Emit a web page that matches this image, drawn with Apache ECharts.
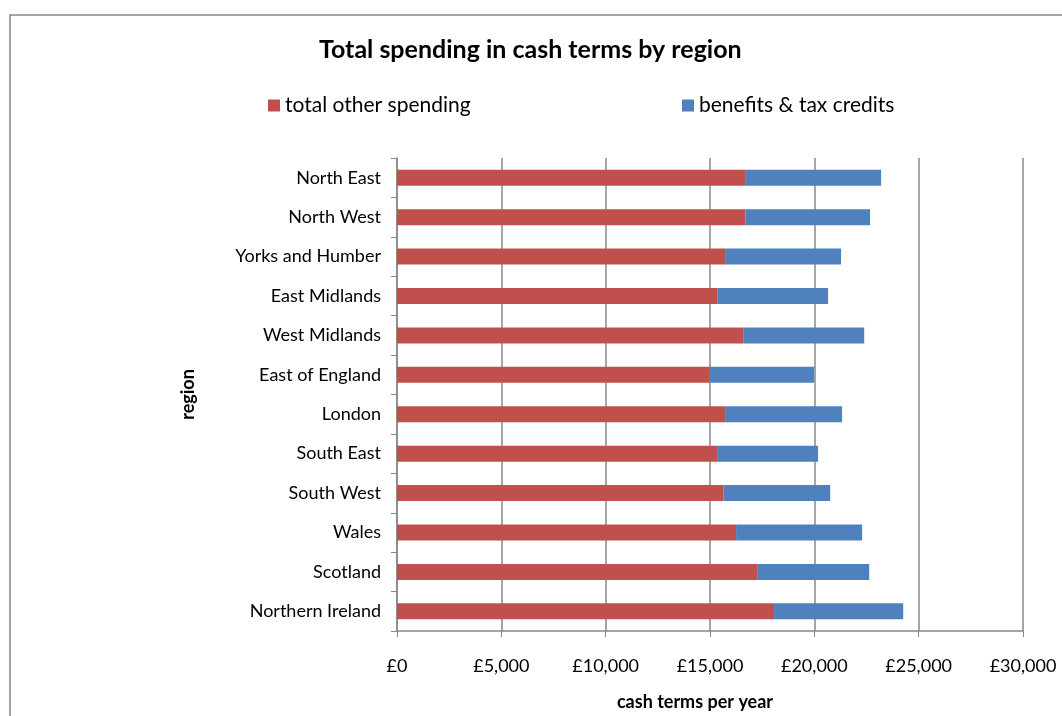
<!DOCTYPE html>
<html>
<head>
<meta charset="UTF-8">
<title>Total spending in cash terms by region</title>
<script src="https://cdn.jsdelivr.net/npm/echarts@6/dist/echarts.min.js"></script>
</head>
<body style="margin:0; background:#fff">
<div id="container" style="width:1062px; height:716px"></div>
<script type="text/javascript">
    var regions = ['North East', 'North West', 'Yorks and Humber', 'East Midlands', 'West Midlands',
        'East of England', 'London', 'South East', 'South West', 'Wales', 'Scotland', 'Northern Ireland'];
    var otherSpending = [16680, 16700, 15760, 15370, 16590, 14990, 15760, 15340, 15640, 16250, 17260, 18070];
    var benefits = [6520, 5970, 5520, 5290, 5800, 5000, 5570, 4840, 5120, 6040, 5370, 6190];
    var xTicks = [0, 5000, 10000, 15000, 20000, 25000, 30000];

    var font = 'Lato, "Open Sans", sans-serif';
    var myChart = echarts.init(document.getElementById('container'));

    var legendText = {fontSize: 21, color: '#000', fontFamily: font};

    var option = {
        animation: false,
        textStyle: {fontFamily: font},
        graphic: [{
            type: 'rect',
            shape: {x: 10, y: 15, width: 1100, height: 750},
            style: {fill: 'none', stroke: '#888', lineWidth: 1.5}
        }],
        title: {
            text: 'Total spending in cash terms by region',
            left: 314,
            top: 32,
            textStyle: {fontSize: 25, fontWeight: 'bold', color: '#000', fontFamily: font}
        },
        legend: [{
            top: 90,
            left: 263,
            itemWidth: 12,
            itemHeight: 12,
            itemGap: 10,
            icon: 'rect',
            textStyle: legendText,
            data: ['total other spending']
        }, {
            top: 90,
            left: 677,
            itemWidth: 12,
            itemHeight: 12,
            icon: 'rect',
            textStyle: legendText,
            data: ['benefits & tax credits']
        }],
        grid: {left: 397, right: 39, top: 158, bottom: 84, containLabel: false},
        xAxis: {
            type: 'value',
            min: 0,
            max: 30000,
            interval: 5000,
            name: 'cash terms per year',
            nameLocation: 'middle',
            nameGap: 62,
            nameTextStyle: {fontSize: 18, fontWeight: 'bold', color: '#000', fontFamily: font, padding: [0, 30, 0, 0]},
            axisLine: {show: true, lineStyle: {color: '#888', width: 1.5}},
            axisTick: {show: true, length: 6, lineStyle: {color: '#888'}},
            axisLabel: {
                fontSize: 18, color: '#000', margin: 26,
                formatter: function (v) {
                    return xTicks.indexOf(v) >= 0 ? '£' + v.toLocaleString('en-GB') : '';
                }
            },
            splitLine: {show: true, lineStyle: {color: '#888', width: 1.5}}
        },
        yAxis: {
            type: 'category',
            inverse: true,
            data: regions,
            name: 'region',
            nameLocation: 'middle',
            nameGap: 200,
            nameRotate: 90,
            nameTextStyle: {fontSize: 18, fontWeight: 'bold', color: '#000', fontFamily: font},
            axisLine: {show: true, lineStyle: {color: '#888', width: 1.5}},
            axisTick: {show: true, length: 6, lineStyle: {color: '#888'}},
            axisLabel: {fontSize: 18, color: '#000', margin: 16}
        },
        series: [{
            name: 'total other spending',
            type: 'bar',
            stack: 'total',
            barWidth: 16,
            itemStyle: {color: '#C0504D'},
            data: otherSpending
        }, {
            name: 'benefits & tax credits',
            type: 'bar',
            stack: 'total',
            barWidth: 16,
            itemStyle: {color: '#4F81BD'},
            data: benefits
        }]
    };

    myChart.setOption(option);
</script>
</body>
</html>
